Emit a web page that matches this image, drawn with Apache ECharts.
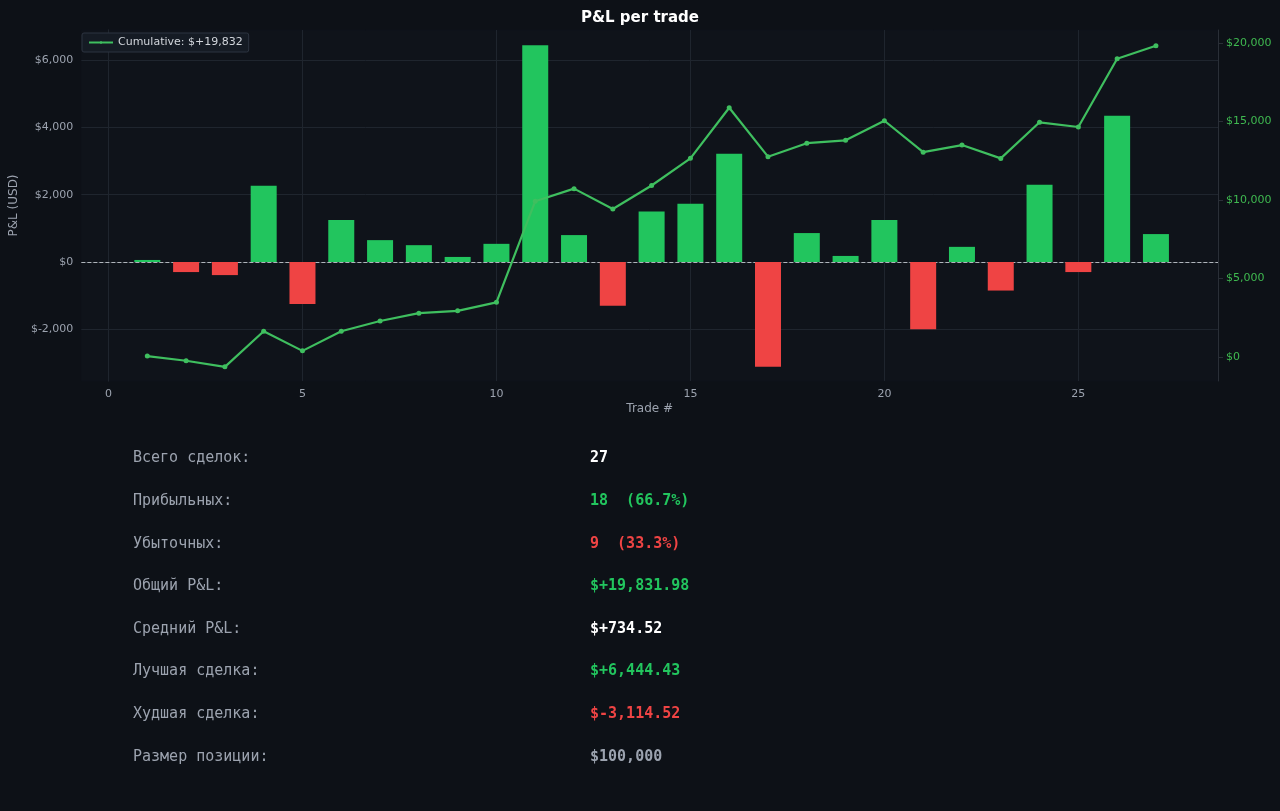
<!DOCTYPE html>
<html><head><meta charset="utf-8">
<script src="https://cdn.jsdelivr.net/npm/echarts@6/dist/echarts.min.js"></script>
<style>html,body{margin:0;background:#0d1117;}#c{width:1280px;height:811px;}</style>
</head><body><div id="c"></div>
<script>
const trades = [1,2,3,4,5,6,7,8,9,10,11,12,13,14,15,16,17,18,19,20,21,22,23,24,25,26,27];
const pnl = [60,-300,-390,2270,-1250,1250,650,500,150,540,6444.43,800,-1300,1500,1730,3220,-3114.52,860,180,1250,-2000,450,-850,2300,-300,4350,830];
const leftTicks = [-2000,0,2000,4000,6000];
const rightTicks = [0,5000,10000,15000,20000];
const xTicks = [0,5,10,15,20,25];
const statLabels = ['Всего сделок:','Прибыльных:','Убыточных:','Общий P&L:','Средний P&L:','Лучшая сделка:','Худшая сделка:','Размер позиции:'];
const statValues = ['27','18  (66.7%)','9  (33.3%)','$+19,831.98','$+734.52','$+6,444.43','$-3,114.52','$100,000'];
const statColors = ['#ffffff','#22c55e','#ef4444','#22c55e','#ffffff','#22c55e','#ef4444','#9ca3af'];

let cum = [], s = 0;
pnl.forEach(v => { s += v; cum.push([0, s]); });
cum = cum.map((c, i) => [trades[i], c[1]]);
const fmt = v => '$' + v.toLocaleString('en-US');
const gridCol = '#1f252e';
const graphics = [];
statLabels.forEach((l, i) => {
  const y = 460 + i * 42.6;
  graphics.push({type:'text', left:133, top:y-9, style:{text:l, fill:'#9ca3af', font:'15px "DejaVu Sans Mono"'}});
  graphics.push({type:'text', left:590, top:y-9, style:{text:statValues[i], fill:statColors[i], font:'bold 15px "DejaVu Sans Mono"'}});
});
const chart = echarts.init(document.getElementById('c'));
chart.setOption({
  backgroundColor:'#0d1117',
  animation:false,
  title:{text:'P&L per trade', left:'center', top:6, textStyle:{color:'#ffffff', fontSize:15, fontWeight:'bold', fontFamily:'DejaVu Sans'}},
  legend:{left:82, top:33, itemWidth:24, itemHeight:3, backgroundColor:'#151b24', borderColor:'#2d3440', borderWidth:1, borderRadius:2, padding:[4,6],
    textStyle:{color:'#d1d5db', fontSize:11, fontFamily:'DejaVu Sans'}, data:[{name:'Cumulative: $+19,832'}]},
  grid:{left:75, right:62, top:30, bottom:430, backgroundColor:'#0f131a', show:true, borderColor:'#0f131a'},
  xAxis:{type:'value', min:-0.7, max:28.6, name:'Trade #', nameLocation:'middle', nameGap:22,
    nameTextStyle:{color:'#9ca3af', fontSize:12, fontFamily:'DejaVu Sans'},
    axisLine:{lineStyle:{color:'#2a2f37'}}, axisTick:{customValues:xTicks, lineStyle:{color:'#555'}},
    axisLabel:{customValues:xTicks, color:'#9ca3af', fontSize:11, fontFamily:'DejaVu Sans'}, splitLine:{show:false}},
  yAxis:[
    {type:'value', min:-3540, max:6900, name:'P&L (USD)', nameLocation:'middle', nameGap:56,
     nameTextStyle:{color:'#9ca3af', fontSize:12, fontFamily:'DejaVu Sans'},
     axisLine:{show:true, lineStyle:{color:'#2a2f37'}}, axisTick:{show:true, customValues:leftTicks},
     axisLabel:{customValues:leftTicks, color:'#9ca3af', fontSize:11, fontFamily:'DejaVu Sans', formatter:fmt}, splitLine:{show:false}},
    {type:'value', min:-1530, max:20830, position:'right',
     axisLine:{show:true, lineStyle:{color:'#2a2f37'}}, axisTick:{show:true, customValues:rightTicks},
     axisLabel:{customValues:rightTicks, color:'#3fb950', fontSize:11, fontFamily:'DejaVu Sans', formatter:fmt}, splitLine:{show:false}}
  ],
  series:[
    {type:'bar', yAxisIndex:0, barWidth:26, z:3,
     data:trades.map((t,i)=>({value:[t,pnl[i]], itemStyle:{color: pnl[i]>=0 ? '#22c55e' : '#ef4444'}})),
     markLine:{silent:true, symbol:'none', label:{show:false}, z:1, data:[
       ...leftTicks.filter(v=>v!==0).map(v=>({yAxis:v, lineStyle:{color:gridCol, type:'solid', width:1}})),
       ...xTicks.map(v=>({xAxis:v, lineStyle:{color:gridCol, type:'solid', width:1}})),
       {yAxis:0, lineStyle:{color:'#b0b5bc', type:'dashed', width:1}}
     ]}},
    {type:'line', name:'Cumulative: $+19,832', yAxisIndex:1, data:cum, z:5,
     symbol:'circle', symbolSize:5, lineStyle:{color:'#3fbf5f', width:2.2}, itemStyle:{color:'#3fbf5f'}}
  ],
  graphic:graphics
});
</script></body></html>
